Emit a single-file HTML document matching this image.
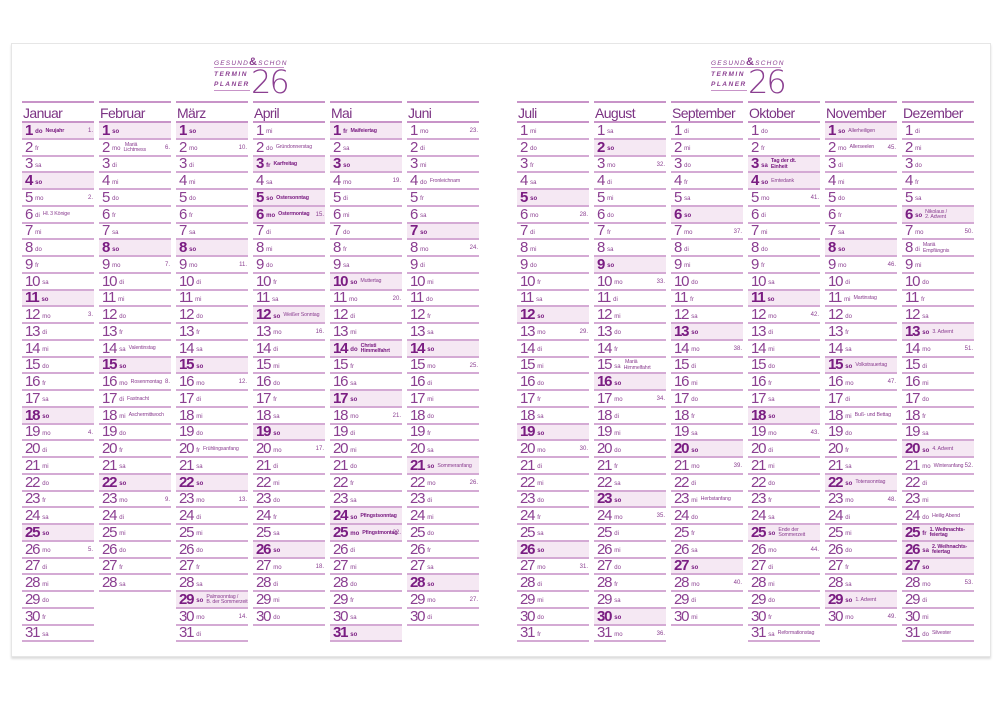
<!DOCTYPE html>
<html><head><meta charset="utf-8"><style>
body{margin:0;width:1000px;height:708px;background:#fff;position:relative;overflow:hidden;font-family:"Liberation Sans Narrow","Liberation Sans",sans-serif;color:#8b3f91}
.card{position:absolute;left:11px;top:43px;width:978px;height:612px;border:1px solid #e6e6e6;box-shadow:0 2px 2px #ddd;background:#fff}
.m{position:absolute;top:101px;width:72px}
.m h2{margin:0;height:18px;border-top:2px solid #c894c8;border-bottom:2px solid #c894c8;font-weight:normal;font-size:14px;letter-spacing:-0.6px;line-height:20px;padding-left:1px;color:#7c3384}
.m p{margin:0;height:14.75px;border-bottom:2px solid #d4aad4;position:relative;white-space:nowrap;padding-left:3px;display:flex;align-items:center;overflow:visible}
.m p b{font-weight:normal;font-size:15px;letter-spacing:-1.2px;line-height:15px;margin-right:3px;color:#8b3f91}
.m p s{text-decoration:none;font-size:6px;margin-top:4px;margin-right:3px}
.m p i{font-style:normal;font-size:5.3px;line-height:5.6px;margin-top:2px;letter-spacing:-0.15px}
.m p u{text-decoration:none;position:absolute;right:1px;top:5px;font-size:6px}
.m p.h{background:#f5e8f3}
.m p.h b{font-weight:bold;color:#7a1d82}
.m p.h s,.m p.h i.k{font-weight:bold;color:#7a1d82}
.logo{position:absolute;width:80px;height:44px;color:#8b3f91}
.logo .t1{position:absolute;left:0;top:0;font-size:6.5px;font-style:italic;letter-spacing:1.2px;font-family:"Liberation Sans",sans-serif}
.logo .t1 b{font-size:11px;font-style:normal}
.logo .t2{position:absolute;left:0;top:14px;font-size:6.5px;font-weight:bold;font-style:italic;letter-spacing:1.5px;line-height:10px;font-family:"Liberation Sans",sans-serif}
.logo .n{position:absolute;left:37px;top:10px;font-size:32px;font-weight:200;line-height:32px;font-family:"DejaVu Sans","Liberation Sans",sans-serif;color:#8b3f91;letter-spacing:-2px}
.logo .ln{position:absolute;left:0;height:1px;background:#c894c8;width:36px}
</style></head><body>
<div class="card"></div>
<div class="logo" style="left:214px;top:56px"><div class="t1">GESUND<b>&amp;</b>SCHON</div><div class="ln" style="top:11px;width:70px"></div><div class="t2">TERMIN<br>PLANER</div><div class="ln" style="top:34px"></div><div class="n">26</div></div>
<div class="logo" style="left:711px;top:56px"><div class="t1">GESUND<b>&amp;</b>SCHON</div><div class="ln" style="top:11px;width:70px"></div><div class="t2">TERMIN<br>PLANER</div><div class="ln" style="top:34px"></div><div class="n">26</div></div>

<div class="m" style="left:22px"><h2>Januar</h2>
<p class="h"><b>1</b><s>do</s><i class="k">Neujahr</i><u>1.</u></p><p><b>2</b><s>fr</s></p><p><b>3</b><s>sa</s></p><p class="h"><b>4</b><s>so</s></p><p><b>5</b><s>mo</s><u>2.</u></p><p><b>6</b><s>di</s><i>Hl. 3 Könige</i></p><p><b>7</b><s>mi</s></p><p><b>8</b><s>do</s></p><p><b>9</b><s>fr</s></p><p><b>10</b><s>sa</s></p><p class="h"><b>11</b><s>so</s></p><p><b>12</b><s>mo</s><u>3.</u></p><p><b>13</b><s>di</s></p><p><b>14</b><s>mi</s></p><p><b>15</b><s>do</s></p><p><b>16</b><s>fr</s></p><p><b>17</b><s>sa</s></p><p class="h"><b>18</b><s>so</s></p><p><b>19</b><s>mo</s><u>4.</u></p><p><b>20</b><s>di</s></p><p><b>21</b><s>mi</s></p><p><b>22</b><s>do</s></p><p><b>23</b><s>fr</s></p><p><b>24</b><s>sa</s></p><p class="h"><b>25</b><s>so</s></p><p><b>26</b><s>mo</s><u>5.</u></p><p><b>27</b><s>di</s></p><p><b>28</b><s>mi</s></p><p><b>29</b><s>do</s></p><p><b>30</b><s>fr</s></p><p><b>31</b><s>sa</s></p></div>

<div class="m" style="left:99px"><h2>Februar</h2>
<p class="h"><b>1</b><s>so</s></p><p><b>2</b><s>mo</s><i>&nbsp;Mariä<br>Lichtmess</i><u>6.</u></p><p><b>3</b><s>di</s></p><p><b>4</b><s>mi</s></p><p><b>5</b><s>do</s></p><p><b>6</b><s>fr</s></p><p><b>7</b><s>sa</s></p><p class="h"><b>8</b><s>so</s></p><p><b>9</b><s>mo</s><u>7.</u></p><p><b>10</b><s>di</s></p><p><b>11</b><s>mi</s></p><p><b>12</b><s>do</s></p><p><b>13</b><s>fr</s></p><p><b>14</b><s>sa</s><i>Valentinstag</i></p><p class="h"><b>15</b><s>so</s></p><p><b>16</b><s>mo</s><i>Rosenmontag</i><u>8.</u></p><p><b>17</b><s>di</s><i>Fastnacht</i></p><p><b>18</b><s>mi</s><i>Aschermittwoch</i></p><p><b>19</b><s>do</s></p><p><b>20</b><s>fr</s></p><p><b>21</b><s>sa</s></p><p class="h"><b>22</b><s>so</s></p><p><b>23</b><s>mo</s><u>9.</u></p><p><b>24</b><s>di</s></p><p><b>25</b><s>mi</s></p><p><b>26</b><s>do</s></p><p><b>27</b><s>fr</s></p><p><b>28</b><s>sa</s></p></div>

<div class="m" style="left:176px"><h2>März</h2>
<p class="h"><b>1</b><s>so</s></p><p><b>2</b><s>mo</s><u>10.</u></p><p><b>3</b><s>di</s></p><p><b>4</b><s>mi</s></p><p><b>5</b><s>do</s></p><p><b>6</b><s>fr</s></p><p><b>7</b><s>sa</s></p><p class="h"><b>8</b><s>so</s></p><p><b>9</b><s>mo</s><u>11.</u></p><p><b>10</b><s>di</s></p><p><b>11</b><s>mi</s></p><p><b>12</b><s>do</s></p><p><b>13</b><s>fr</s></p><p><b>14</b><s>sa</s></p><p class="h"><b>15</b><s>so</s></p><p><b>16</b><s>mo</s><u>12.</u></p><p><b>17</b><s>di</s></p><p><b>18</b><s>mi</s></p><p><b>19</b><s>do</s></p><p><b>20</b><s>fr</s><i>Frühlingsanfang</i></p><p><b>21</b><s>sa</s></p><p class="h"><b>22</b><s>so</s></p><p><b>23</b><s>mo</s><u>13.</u></p><p><b>24</b><s>di</s></p><p><b>25</b><s>mi</s></p><p><b>26</b><s>do</s></p><p><b>27</b><s>fr</s></p><p><b>28</b><s>sa</s></p><p class="h"><b>29</b><s>so</s><i>Palmsonntag /<br>B. der Sommerzeit</i></p><p><b>30</b><s>mo</s><u>14.</u></p><p><b>31</b><s>di</s></p></div>

<div class="m" style="left:253px"><h2>April</h2>
<p><b>1</b><s>mi</s></p><p><b>2</b><s>do</s><i>Gründonnerstag</i></p><p class="h"><b>3</b><s>fr</s><i class="k">Karfreitag</i></p><p><b>4</b><s>sa</s></p><p class="h"><b>5</b><s>so</s><i class="k">Ostersonntag</i></p><p class="h"><b>6</b><s>mo</s><i class="k">Ostermontag</i><u>15.</u></p><p><b>7</b><s>di</s></p><p><b>8</b><s>mi</s></p><p><b>9</b><s>do</s></p><p><b>10</b><s>fr</s></p><p><b>11</b><s>sa</s></p><p class="h"><b>12</b><s>so</s><i>Weißer Sonntag</i></p><p><b>13</b><s>mo</s><u>16.</u></p><p><b>14</b><s>di</s></p><p><b>15</b><s>mi</s></p><p><b>16</b><s>do</s></p><p><b>17</b><s>fr</s></p><p><b>18</b><s>sa</s></p><p class="h"><b>19</b><s>so</s></p><p><b>20</b><s>mo</s><u>17.</u></p><p><b>21</b><s>di</s></p><p><b>22</b><s>mi</s></p><p><b>23</b><s>do</s></p><p><b>24</b><s>fr</s></p><p><b>25</b><s>sa</s></p><p class="h"><b>26</b><s>so</s></p><p><b>27</b><s>mo</s><u>18.</u></p><p><b>28</b><s>di</s></p><p><b>29</b><s>mi</s></p><p><b>30</b><s>do</s></p></div>

<div class="m" style="left:330px"><h2>Mai</h2>
<p class="h"><b>1</b><s>fr</s><i class="k">Maifeiertag</i></p><p><b>2</b><s>sa</s></p><p class="h"><b>3</b><s>so</s></p><p><b>4</b><s>mo</s><u>19.</u></p><p><b>5</b><s>di</s></p><p><b>6</b><s>mi</s></p><p><b>7</b><s>do</s></p><p><b>8</b><s>fr</s></p><p><b>9</b><s>sa</s></p><p class="h"><b>10</b><s>so</s><i>Muttertag</i></p><p><b>11</b><s>mo</s><u>20.</u></p><p><b>12</b><s>di</s></p><p><b>13</b><s>mi</s></p><p class="h"><b>14</b><s>do</s><i class="k">Christi<br>Himmelfahrt</i></p><p><b>15</b><s>fr</s></p><p><b>16</b><s>sa</s></p><p class="h"><b>17</b><s>so</s></p><p><b>18</b><s>mo</s><u>21.</u></p><p><b>19</b><s>di</s></p><p><b>20</b><s>mi</s></p><p><b>21</b><s>do</s></p><p><b>22</b><s>fr</s></p><p><b>23</b><s>sa</s></p><p class="h"><b>24</b><s>so</s><i class="k">Pfingstsonntag</i></p><p class="h"><b>25</b><s>mo</s><i class="k">Pfingstmontag</i><u>22.</u></p><p><b>26</b><s>di</s></p><p><b>27</b><s>mi</s></p><p><b>28</b><s>do</s></p><p><b>29</b><s>fr</s></p><p><b>30</b><s>sa</s></p><p class="h"><b>31</b><s>so</s></p></div>

<div class="m" style="left:407px"><h2>Juni</h2>
<p><b>1</b><s>mo</s><u>23.</u></p><p><b>2</b><s>di</s></p><p><b>3</b><s>mi</s></p><p><b>4</b><s>do</s><i>Fronleichnam</i></p><p><b>5</b><s>fr</s></p><p><b>6</b><s>sa</s></p><p class="h"><b>7</b><s>so</s></p><p><b>8</b><s>mo</s><u>24.</u></p><p><b>9</b><s>di</s></p><p><b>10</b><s>mi</s></p><p><b>11</b><s>do</s></p><p><b>12</b><s>fr</s></p><p><b>13</b><s>sa</s></p><p class="h"><b>14</b><s>so</s></p><p><b>15</b><s>mo</s><u>25.</u></p><p><b>16</b><s>di</s></p><p><b>17</b><s>mi</s></p><p><b>18</b><s>do</s></p><p><b>19</b><s>fr</s></p><p><b>20</b><s>sa</s></p><p class="h"><b>21</b><s>so</s><i>Sommeranfang</i></p><p><b>22</b><s>mo</s><u>26.</u></p><p><b>23</b><s>di</s></p><p><b>24</b><s>mi</s></p><p><b>25</b><s>do</s></p><p><b>26</b><s>fr</s></p><p><b>27</b><s>sa</s></p><p class="h"><b>28</b><s>so</s></p><p><b>29</b><s>mo</s><u>27.</u></p><p><b>30</b><s>di</s></p></div>

<div class="m" style="left:517px"><h2>Juli</h2>
<p><b>1</b><s>mi</s></p><p><b>2</b><s>do</s></p><p><b>3</b><s>fr</s></p><p><b>4</b><s>sa</s></p><p class="h"><b>5</b><s>so</s></p><p><b>6</b><s>mo</s><u>28.</u></p><p><b>7</b><s>di</s></p><p><b>8</b><s>mi</s></p><p><b>9</b><s>do</s></p><p><b>10</b><s>fr</s></p><p><b>11</b><s>sa</s></p><p class="h"><b>12</b><s>so</s></p><p><b>13</b><s>mo</s><u>29.</u></p><p><b>14</b><s>di</s></p><p><b>15</b><s>mi</s></p><p><b>16</b><s>do</s></p><p><b>17</b><s>fr</s></p><p><b>18</b><s>sa</s></p><p class="h"><b>19</b><s>so</s></p><p><b>20</b><s>mo</s><u>30.</u></p><p><b>21</b><s>di</s></p><p><b>22</b><s>mi</s></p><p><b>23</b><s>do</s></p><p><b>24</b><s>fr</s></p><p><b>25</b><s>sa</s></p><p class="h"><b>26</b><s>so</s></p><p><b>27</b><s>mo</s><u>31.</u></p><p><b>28</b><s>di</s></p><p><b>29</b><s>mi</s></p><p><b>30</b><s>do</s></p><p><b>31</b><s>fr</s></p></div>

<div class="m" style="left:594px"><h2>August</h2>
<p><b>1</b><s>sa</s></p><p class="h"><b>2</b><s>so</s></p><p><b>3</b><s>mo</s><u>32.</u></p><p><b>4</b><s>di</s></p><p><b>5</b><s>mi</s></p><p><b>6</b><s>do</s></p><p><b>7</b><s>fr</s></p><p><b>8</b><s>sa</s></p><p class="h"><b>9</b><s>so</s></p><p><b>10</b><s>mo</s><u>33.</u></p><p><b>11</b><s>di</s></p><p><b>12</b><s>mi</s></p><p><b>13</b><s>do</s></p><p><b>14</b><s>fr</s></p><p><b>15</b><s>sa</s><i>&nbsp;Mariä<br>Himmelfahrt</i></p><p class="h"><b>16</b><s>so</s></p><p><b>17</b><s>mo</s><u>34.</u></p><p><b>18</b><s>di</s></p><p><b>19</b><s>mi</s></p><p><b>20</b><s>do</s></p><p><b>21</b><s>fr</s></p><p><b>22</b><s>sa</s></p><p class="h"><b>23</b><s>so</s></p><p><b>24</b><s>mo</s><u>35.</u></p><p><b>25</b><s>di</s></p><p><b>26</b><s>mi</s></p><p><b>27</b><s>do</s></p><p><b>28</b><s>fr</s></p><p><b>29</b><s>sa</s></p><p class="h"><b>30</b><s>so</s></p><p><b>31</b><s>mo</s><u>36.</u></p></div>

<div class="m" style="left:671px"><h2>September</h2>
<p><b>1</b><s>di</s></p><p><b>2</b><s>mi</s></p><p><b>3</b><s>do</s></p><p><b>4</b><s>fr</s></p><p><b>5</b><s>sa</s></p><p class="h"><b>6</b><s>so</s></p><p><b>7</b><s>mo</s><u>37.</u></p><p><b>8</b><s>di</s></p><p><b>9</b><s>mi</s></p><p><b>10</b><s>do</s></p><p><b>11</b><s>fr</s></p><p><b>12</b><s>sa</s></p><p class="h"><b>13</b><s>so</s></p><p><b>14</b><s>mo</s><u>38.</u></p><p><b>15</b><s>di</s></p><p><b>16</b><s>mi</s></p><p><b>17</b><s>do</s></p><p><b>18</b><s>fr</s></p><p><b>19</b><s>sa</s></p><p class="h"><b>20</b><s>so</s></p><p><b>21</b><s>mo</s><u>39.</u></p><p><b>22</b><s>di</s></p><p><b>23</b><s>mi</s><i>Herbstanfang</i></p><p><b>24</b><s>do</s></p><p><b>25</b><s>fr</s></p><p><b>26</b><s>sa</s></p><p class="h"><b>27</b><s>so</s></p><p><b>28</b><s>mo</s><u>40.</u></p><p><b>29</b><s>di</s></p><p><b>30</b><s>mi</s></p></div>

<div class="m" style="left:748px"><h2>Oktober</h2>
<p><b>1</b><s>do</s></p><p><b>2</b><s>fr</s></p><p class="h"><b>3</b><s>sa</s><i class="k">Tag der dt.<br>Einheit</i></p><p class="h"><b>4</b><s>so</s><i>Erntedank</i></p><p><b>5</b><s>mo</s><u>41.</u></p><p><b>6</b><s>di</s></p><p><b>7</b><s>mi</s></p><p><b>8</b><s>do</s></p><p><b>9</b><s>fr</s></p><p><b>10</b><s>sa</s></p><p class="h"><b>11</b><s>so</s></p><p><b>12</b><s>mo</s><u>42.</u></p><p><b>13</b><s>di</s></p><p><b>14</b><s>mi</s></p><p><b>15</b><s>do</s></p><p><b>16</b><s>fr</s></p><p><b>17</b><s>sa</s></p><p class="h"><b>18</b><s>so</s></p><p><b>19</b><s>mo</s><u>43.</u></p><p><b>20</b><s>di</s></p><p><b>21</b><s>mi</s></p><p><b>22</b><s>do</s></p><p><b>23</b><s>fr</s></p><p><b>24</b><s>sa</s></p><p class="h"><b>25</b><s>so</s><i>Ende der<br>Sommerzeit</i></p><p><b>26</b><s>mo</s><u>44.</u></p><p><b>27</b><s>di</s></p><p><b>28</b><s>mi</s></p><p><b>29</b><s>do</s></p><p><b>30</b><s>fr</s></p><p><b>31</b><s>sa</s><i>Reformationstag</i></p></div>

<div class="m" style="left:825px"><h2>November</h2>
<p class="h"><b>1</b><s>so</s><i>Allerheiligen</i></p><p><b>2</b><s>mo</s><i>Allerseelen</i><u>45.</u></p><p><b>3</b><s>di</s></p><p><b>4</b><s>mi</s></p><p><b>5</b><s>do</s></p><p><b>6</b><s>fr</s></p><p><b>7</b><s>sa</s></p><p class="h"><b>8</b><s>so</s></p><p><b>9</b><s>mo</s><u>46.</u></p><p><b>10</b><s>di</s></p><p><b>11</b><s>mi</s><i>Martinstag</i></p><p><b>12</b><s>do</s></p><p><b>13</b><s>fr</s></p><p><b>14</b><s>sa</s></p><p class="h"><b>15</b><s>so</s><i>Volkstrauertag</i></p><p><b>16</b><s>mo</s><u>47.</u></p><p><b>17</b><s>di</s></p><p><b>18</b><s>mi</s><i>Buß- und Bettag</i></p><p><b>19</b><s>do</s></p><p><b>20</b><s>fr</s></p><p><b>21</b><s>sa</s></p><p class="h"><b>22</b><s>so</s><i>Totensonntag</i></p><p><b>23</b><s>mo</s><u>48.</u></p><p><b>24</b><s>di</s></p><p><b>25</b><s>mi</s></p><p><b>26</b><s>do</s></p><p><b>27</b><s>fr</s></p><p><b>28</b><s>sa</s></p><p class="h"><b>29</b><s>so</s><i>1. Advent</i></p><p><b>30</b><s>mo</s><u>49.</u></p></div>

<div class="m" style="left:902px"><h2>Dezember</h2>
<p><b>1</b><s>di</s></p><p><b>2</b><s>mi</s></p><p><b>3</b><s>do</s></p><p><b>4</b><s>fr</s></p><p><b>5</b><s>sa</s></p><p class="h"><b>6</b><s>so</s><i>Nikolaus /<br>2. Advent</i></p><p><b>7</b><s>mo</s><u>50.</u></p><p><b>8</b><s>di</s><i>Mariä<br>Empfängnis</i></p><p><b>9</b><s>mi</s></p><p><b>10</b><s>do</s></p><p><b>11</b><s>fr</s></p><p><b>12</b><s>sa</s></p><p class="h"><b>13</b><s>so</s><i>3. Advent</i></p><p><b>14</b><s>mo</s><u>51.</u></p><p><b>15</b><s>di</s></p><p><b>16</b><s>mi</s></p><p><b>17</b><s>do</s></p><p><b>18</b><s>fr</s></p><p><b>19</b><s>sa</s></p><p class="h"><b>20</b><s>so</s><i>4. Advent</i></p><p><b>21</b><s>mo</s><i>Winteranfang</i><u>52.</u></p><p><b>22</b><s>di</s></p><p><b>23</b><s>mi</s></p><p><b>24</b><s>do</s><i>Heilig Abend</i></p><p class="h"><b>25</b><s>fr</s><i class="k">1. Weihnachts-<br>feiertag</i></p><p class="h"><b>26</b><s>sa</s><i class="k">2. Weihnachts-<br>feiertag</i></p><p class="h"><b>27</b><s>so</s></p><p><b>28</b><s>mo</s><u>53.</u></p><p><b>29</b><s>di</s></p><p><b>30</b><s>mi</s></p><p><b>31</b><s>do</s><i>Silvester</i></p></div>
</body></html>
